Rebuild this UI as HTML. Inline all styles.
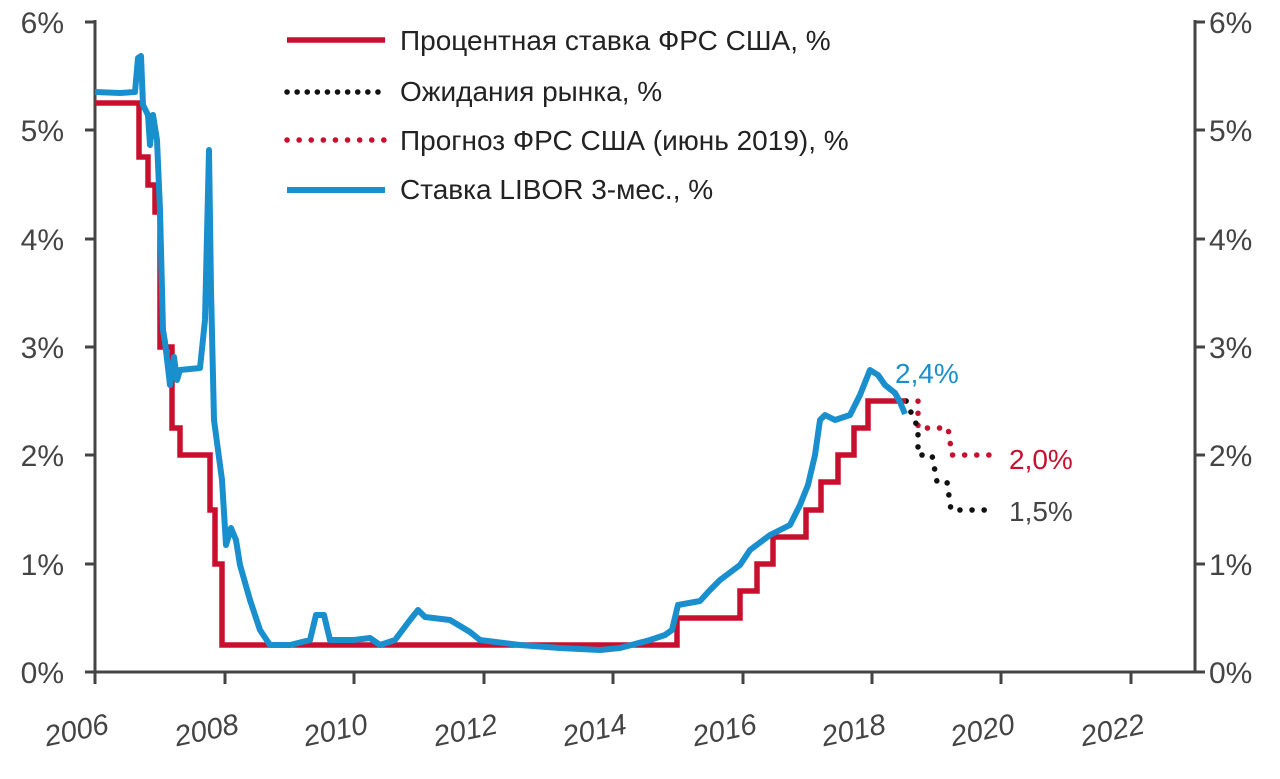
<!DOCTYPE html>
<html><head><meta charset="utf-8"><style>
html,body{margin:0;padding:0;background:#fff;}
svg text{font-family:"Liberation Sans",sans-serif;}
</style></head><body>
<svg width="1280" height="774" viewBox="0 0 1280 774" xmlns="http://www.w3.org/2000/svg">
<g stroke="#444" stroke-width="3" fill="none">
<line x1="95" y1="20" x2="95" y2="673"/>
<line x1="1195" y1="20" x2="1195" y2="673"/>
<line x1="94" y1="672" x2="1196" y2="672"/>
<path d="M85,22H95M85,130H95M85,239H95M85,347H95M85,455H95M85,564H95M85,672H95"/>
<path d="M1195,22H1205M1195,130H1205M1195,239H1205M1195,347H1205M1195,455H1205M1195,564H1205M1195,672H1205"/>
<path d="M95,672V684M225,672V684M354,672V684M484,672V684M613,672V684M743,672V684M872,672V684M1001,672V684M1131,672V684"/>
</g>
<g font-size="30" fill="#444">
<text x="64" y="33" text-anchor="end">6%</text>
<text x="64" y="141" text-anchor="end">5%</text>
<text x="64" y="250" text-anchor="end">4%</text>
<text x="64" y="358" text-anchor="end">3%</text>
<text x="64" y="466" text-anchor="end">2%</text>
<text x="64" y="575" text-anchor="end">1%</text>
<text x="64" y="683" text-anchor="end">0%</text>
<text x="1209" y="33">6%</text>
<text x="1209" y="141">5%</text>
<text x="1209" y="250">4%</text>
<text x="1209" y="358">3%</text>
<text x="1209" y="466">2%</text>
<text x="1209" y="575">1%</text>
<text x="1209" y="683">0%</text>
</g>
<g font-size="29" fill="#444" font-style="italic" text-anchor="end">
<text transform="translate(110,733) rotate(-12)">2006</text>
<text transform="translate(240,733) rotate(-12)">2008</text>
<text transform="translate(369,733) rotate(-12)">2010</text>
<text transform="translate(499,733) rotate(-12)">2012</text>
<text transform="translate(628,733) rotate(-12)">2014</text>
<text transform="translate(758,733) rotate(-12)">2016</text>
<text transform="translate(887,733) rotate(-12)">2018</text>
<text transform="translate(1016,733) rotate(-12)">2020</text>
<text transform="translate(1146,733) rotate(-12)">2022</text>
</g>
<path d="M906,401H918V428H948L952,455H1000" stroke="#c8102e" stroke-width="5.5" stroke-dasharray="0.1 12" stroke-linecap="round" fill="none"/>
<path d="M906,401L918,428V455H932L937,482H947L951,510H995" stroke="#111" stroke-width="5.5" stroke-dasharray="0.1 12" stroke-linecap="round" fill="none"/>
<path d="M95,103H139V157H148V185H155V212H160V347H172V428H180V455H210V510H215V564H222V645H677V618H740V591H757V564H773V537H806V510H821V482H838V455H854V428H868V401H906" stroke="#c8102e" stroke-width="5.5" fill="none"/>
<path d="M95,92L120,93L135,92L138,58L141,56L143,105L148,115L150,145L153,115L157,140L160,210L163,330L165,342L170,385L174,357L177,380L180,370L200,368L205,320L209,150L211,290L214,420L222,480L226,545L231,528L236,540L240,565L250,600L260,630L270,645L290,645L310,640L316,615L324,615L330,640L354,640L370,638L380,645L395,640L410,620L418,610L425,617L450,620L470,632L480,640L520,645L560,648L600,650L620,648L650,640L665,635L672,630L678,605L700,601L710,590L720,580L740,565L750,550L770,535L790,525L800,505L808,485L815,455L820,420L825,415L835,420L850,415L860,395L870,370L878,375L885,385L895,393L900,402L905,414" stroke="#1a8fcd" stroke-width="6" fill="none" stroke-linejoin="round"/>
<g font-size="28">
<text x="895" y="383" fill="#1a8fcd">2,4%</text>
<text x="1009" y="469" fill="#c8102e">2,0%</text>
<text x="1009" y="521" fill="#444">1,5%</text>
</g>
<line x1="287" y1="40" x2="385" y2="40" stroke="#c8102e" stroke-width="5.5"/>
<line x1="287" y1="92" x2="385" y2="92" stroke="#111" stroke-width="5.5" stroke-dasharray="0.1 10" stroke-linecap="round"/>
<line x1="287" y1="140" x2="385" y2="140" stroke="#c8102e" stroke-width="5.5" stroke-dasharray="0.1 12" stroke-linecap="round"/>
<line x1="287" y1="190" x2="385" y2="190" stroke="#1a8fcd" stroke-width="6"/>
<g font-size="28" fill="#222">
<text x="400" y="50">Процентная ставка ФРС США, %</text>
<text x="400" y="101">Ожидания рынка, %</text>
<text x="400" y="150">Прогноз ФРС США (июнь 2019), %</text>
<text x="400" y="199">Ставка LIBOR 3-мес., %</text>
</g>
</svg>
</body></html>
